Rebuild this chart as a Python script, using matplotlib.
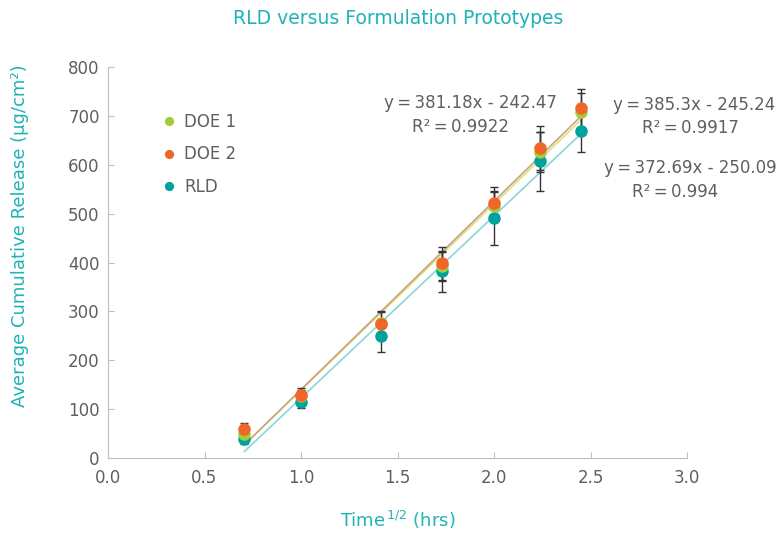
import numpy as np
import matplotlib.pyplot as plt

# time^(1/2), hrs
time_sqrt = [0.707, 1.0, 1.414, 1.732, 2.0, 2.236, 2.449]

doe1 = [50, 127, 276, 392, 515, 626, 707]
doe2 = [59, 129, 274, 398, 521, 634, 716]
rld = [39, 115, 250, 382, 491, 607, 669]

doe1_err = [10, 12, 22, 30, 30, 40, 40]
doe2_err = [13, 14, 27, 33, 33, 45, 38]
rld_err = [10, 13, 33, 42, 55, 61, 43]

# trendline coefficients (slope, intercept) as given on the chart
fit_doe1 = (381.18, -242.47)
fit_doe2 = (385.3, -245.24)
fit_rld = (372.69, -250.09)

sp = '\u2009'
eq_labels = [
	(f'y{sp}={sp}381.18x - 242.47', f'R²{sp}={sp}0.9922'),
	(f'y{sp}={sp}385.3x - 245.24', f'R²{sp}={sp}0.9917'),
	(f'y{sp}={sp}372.69x - 250.09', f'R²{sp}={sp}0.994'),
]

teal_txt = '#1db3b9'
gray_txt = '#5f5f5f'
axis_col = '#bfbfbf'

W, H = 781, 533
fig = plt.figure(figsize=(W / 100, H / 100), dpi=100)
ax = fig.add_axes([108 / W, 1 - 458 / H, (687 - 108) / W, (458 - 67) / H])

x = np.array(time_sqrt)
xl = np.array([x.min(), x.max()])

# trendlines
ax.plot(xl, fit_rld[0] * xl + fit_rld[1], color='#8ad5dc', lw=1.2, zorder=2)
ax.plot(xl, fit_doe1[0] * xl + fit_doe1[1], color='#dbe47c', lw=1.2, zorder=2)
ax.plot(xl, fit_doe2[0] * xl + fit_doe2[1], color='#c9a384', lw=1.2, zorder=2)

def _series(vals, err, color, label):
	ax.errorbar(x, vals, yerr=err, fmt='none', ecolor='#333333', elinewidth=1,
				capsize=3, capthick=1, zorder=3)
	ax.plot(x, vals, 'o', color=color, markersize=8, label=label, zorder=4)

_series(rld, rld_err, '#00a29e', 'RLD')
_series(doe1, doe1_err, '#a5cd39', 'DOE 1')
_series(doe2, doe2_err, '#f0652a', 'DOE 2')

ax.set_xlim(0, 3)
ax.set_ylim(0, 800)
ax.set_xticks(np.arange(0, 3.01, 0.5))
ax.set_xticklabels([f'{v:.1f}' for v in np.arange(0, 3.01, 0.5)])
ax.set_yticks(range(0, 801, 100))

for s in ['top', 'right']:
	ax.spines[s].set_visible(False)
for s in ['left', 'bottom']:
	ax.spines[s].set_color(axis_col)
ax.tick_params(colors=axis_col, labelcolor=gray_txt, labelsize=12, direction='in', length=4)
ax.tick_params(axis='x', pad=8)
ax.tick_params(axis='y', pad=6)

fig.text(398 / W, 1 - 520 / H, 'Time$^{\\,1/2}$ (hrs)', color=teal_txt, fontsize=13,
		 ha='center', va='center')
fig.text(20 / W, 1 - 236 / H, 'Average Cumulative Release (µg/cm²)', color=teal_txt,
		 fontsize=13, ha='center', va='center', rotation=90)
fig.text(398 / W, 1 - 19 / H, 'RLD versus Formulation Prototypes', color=teal_txt,
		 fontsize=13.5, ha='center', va='center')

handles, labels = ax.get_legend_handles_labels()
order = [labels.index(n) for n in ['DOE 1', 'DOE 2', 'RLD']]
leg = ax.legend([handles[i] for i in order], [labels[i] for i in order],
				loc='upper left', bbox_to_anchor=(0.063, 0.92), frameon=False,
				fontsize=12, handletextpad=0.3, labelspacing=0.85, markerscale=0.7,
				handlelength=1.2)
for t in leg.get_texts():
	t.set_color(gray_txt)

# equation labels
pos = [((470, 103), (461, 127)), ((694, 105), (690, 128)), ((690, 168), (675, 192))]
for (eq, r2), ((ex, ey), (rx, ry)) in zip(eq_labels, pos):
	fig.text(ex / W, 1 - ey / H, eq, color=gray_txt, fontsize=12, ha='center', va='center')
	fig.text(rx / W, 1 - ry / H, r2, color=gray_txt, fontsize=12, ha='center', va='center')

fig.savefig('out.png', dpi=100)
